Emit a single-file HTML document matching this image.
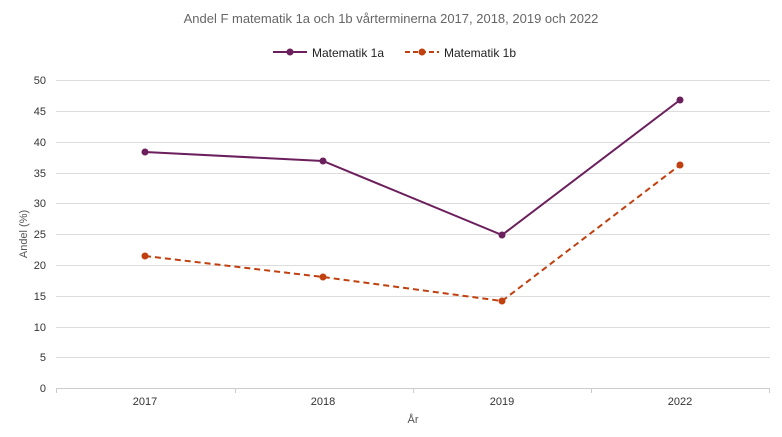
<!DOCTYPE html>
<html><head><meta charset="utf-8"><style>body{margin:0;background:#fff}svg{display:block}</style></head><body>
<svg width="782" height="437" xmlns="http://www.w3.org/2000/svg" font-family="Liberation Sans, sans-serif">
<rect width="782" height="437" fill="#fff"/>
<text x="391" y="23" text-anchor="middle" font-size="13" fill="#666">Andel F matematik 1a och 1b vårterminerna 2017, 2018, 2019 och 2022</text>
<line x1="273" y1="52" x2="307" y2="52" stroke="#6b1f5c" stroke-width="2"/><circle cx="290" cy="52" r="3.5" fill="#6b1f5c"/>
<text x="312" y="57" font-size="12" fill="#222">Matematik 1a</text>
<line x1="405" y1="52" x2="439" y2="52" stroke="#c0400f" stroke-width="2" stroke-dasharray="5,3"/><circle cx="422" cy="52" r="3.5" fill="#c0400f"/>
<text x="444" y="57" font-size="12" fill="#222">Matematik 1b</text>
<g stroke="#dcdcdc" stroke-width="1">
<line x1="56" y1="80.5" x2="770" y2="80.5"/><line x1="56" y1="111.5" x2="770" y2="111.5"/><line x1="56" y1="142.5" x2="770" y2="142.5"/><line x1="56" y1="173.5" x2="770" y2="173.5"/><line x1="56" y1="203.5" x2="770" y2="203.5"/><line x1="56" y1="234.5" x2="770" y2="234.5"/><line x1="56" y1="265.5" x2="770" y2="265.5"/><line x1="56" y1="296.5" x2="770" y2="296.5"/><line x1="56" y1="327.5" x2="770" y2="327.5"/><line x1="56" y1="357.5" x2="770" y2="357.5"/>
<line x1="56" y1="388.5" x2="770" y2="388.5" stroke="#ccc"/>
<line x1="56.5" y1="388" x2="56.5" y2="393" stroke="#ccc"/><line x1="235.5" y1="388" x2="235.5" y2="393" stroke="#ccc"/><line x1="413.5" y1="388" x2="413.5" y2="393" stroke="#ccc"/><line x1="591.5" y1="388" x2="591.5" y2="393" stroke="#ccc"/><line x1="769.5" y1="388" x2="769.5" y2="393" stroke="#ccc"/>
</g>
<g font-size="11" fill="#333" text-anchor="end">
<text x="46" y="84">50</text><text x="46" y="115">45</text><text x="46" y="146">40</text><text x="46" y="177">35</text><text x="46" y="207">30</text><text x="46" y="238">25</text><text x="46" y="269">20</text><text x="46" y="300">15</text><text x="46" y="331">10</text><text x="46" y="361">5</text><text x="46" y="392">0</text>
</g>
<g font-size="11" fill="#333" text-anchor="middle">
<text x="145" y="405">2017</text><text x="323" y="405">2018</text><text x="502" y="405">2019</text><text x="680" y="405">2022</text>
</g>
<text x="413" y="423" text-anchor="middle" font-size="11" fill="#555">År</text>
<text transform="translate(27,234) rotate(-90)" text-anchor="middle" font-size="11" fill="#555">Andel (%)</text>
<polyline points="145,152 323,161 502,235 680,100" fill="none" stroke="#6b1f5c" stroke-width="2"/>
<g fill="#6b1f5c"><circle cx="145" cy="152" r="3.5"/><circle cx="323" cy="161" r="3.5"/><circle cx="502" cy="235" r="3.5"/><circle cx="680" cy="100" r="3.5"/></g>
<polyline points="145,256 323,277 502,301 680,165" fill="none" stroke="#c0400f" stroke-width="2" stroke-dasharray="6,4"/>
<g fill="#c0400f"><circle cx="145" cy="256" r="3.5"/><circle cx="323" cy="277" r="3.5"/><circle cx="502" cy="301" r="3.5"/><circle cx="680" cy="165" r="3.5"/></g>
</svg>
</body></html>
